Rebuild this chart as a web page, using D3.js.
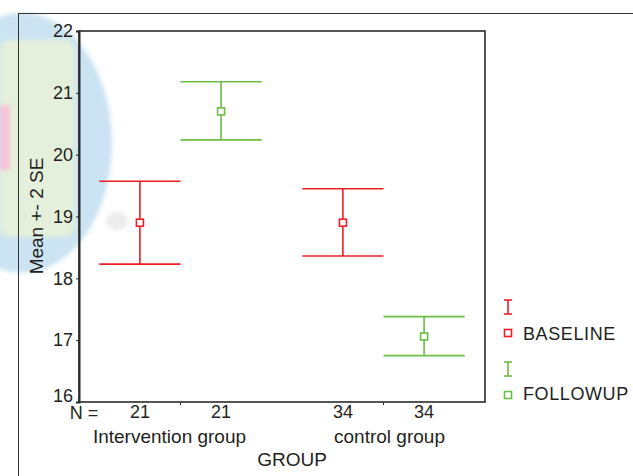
<!DOCTYPE html>
<html>
<head>
<meta charset="utf-8">
<script src="https://cdn.jsdelivr.net/npm/d3@7"></script>
<style>
  html, body { margin: 0; padding: 0; background: #fff; }
  svg { display: block; font-family: Arial, "Liberation Sans", sans-serif; }
</style>
</head>
<body>
<svg id="chart" width="633" height="476"></svg>
<script>
const groups = ['Intervention group', 'control group'];
const series = ['BASELINE', 'FOLLOWUP'];
const groupN = [[21, 21], [34, 34]];
const baselineMean = [18.90, 18.90];
const baselineLow = [18.23, 18.36];
const baselineHigh = [19.57, 19.45];
const followupMean = [20.70, 17.06];
const followupLow = [20.24, 16.75];
const followupHigh = [21.18, 17.38];
const yTicks = [16, 17, 18, 19, 20, 21, 22];

const colors = { BASELINE: '#ee1d25', FOLLOWUP: '#6cbd45' };

const svg = d3.select('#chart');
const margin = { top: 31, right: 148, bottom: 74, left: 79 };
const W = 633, H = 476;
const width = W - margin.left - margin.right;
const height = H - margin.top - margin.bottom;

// soft blurred blob on the left edge
const defs = svg.append('defs');
defs.append('filter').attr('id', 'soft')
  .append('feGaussianBlur').attr('stdDeviation', 2);
const blob = svg.append('g').attr('filter', 'url(#soft)');
blob.append('ellipse').attr('cx', 22).attr('cy', 143).attr('rx', 90).attr('ry', 130).attr('fill', '#cbe3f2');
blob.append('rect').attr('x', 0).attr('y', 40).attr('width', 75).attr('height', 197).attr('rx', 10).attr('fill', '#e4f0db');
blob.append('rect').attr('x', 0).attr('y', 105).attr('width', 10).attr('height', 65).attr('fill', '#f6c3d8');
blob.append('ellipse').attr('cx', 117).attr('cy', 221).attr('rx', 11).attr('ry', 9).attr('fill', '#ebebeb');

// outer frame lines
svg.append('line').attr('x1', 18).attr('x2', W).attr('y1', 13.5).attr('y2', 13.5)
  .attr('stroke', '#333').attr('stroke-width', 1);
svg.append('line').attr('x1', 18.5).attr('x2', 18.5).attr('y1', 13).attr('y2', H)
  .attr('stroke', '#333').attr('stroke-width', 1);

const g = svg.append('g').attr('transform', `translate(${margin.left},${margin.top})`);

const x = d3.scaleBand().domain(groups).range([0, width]).padding(0);
const xInner = d3.scalePoint().domain(series).range([x.bandwidth() * 0.3, x.bandwidth() * 0.7]);
const y = d3.scaleLinear().domain([16, 22]).range([height, 0]);

// plot box
g.append('rect').attr('x', 0).attr('y', 0).attr('width', width).attr('height', height)
  .attr('fill', 'none').attr('stroke', '#2b2b2b').attr('stroke-width', 1.6);

// y axis
const yAxis = g.append('g')
  .call(d3.axisLeft(y).tickValues(yTicks).tickSize(3).tickPadding(3).tickFormat(d3.format('d')));
yAxis.select('.domain').attr('stroke', '#2b2b2b').attr('stroke-width', 2);
yAxis.selectAll('.tick line').attr('stroke', '#2b2b2b');
yAxis.selectAll('.tick text').attr('font-size', 18).attr('fill', '#231f20')
  .attr('font-family', 'Arial, "Liberation Sans", sans-serif')
  .attr('dy', d => d === 16 ? '-0.05em' : '0.32em');

// x axis: small ticks at group centres
const xAxis = g.append('g').attr('transform', `translate(0,${height})`)
  .call(d3.axisBottom(x).tickSize(3).tickFormat(''));
xAxis.select('.domain').remove();
xAxis.selectAll('.tick line').attr('stroke', '#2b2b2b');

// N labels
const nRow = [];
groups.forEach((grp, gi) => series.forEach((s, si) => nRow.push({ grp, s, n: groupN[gi][si] })));
g.selectAll('.nlab').data(nRow).enter().append('text')
  .attr('class', 'nlab')
  .attr('x', d => x(d.grp) + xInner(d.s))
  .attr('y', height + 16)
  .attr('text-anchor', 'middle')
  .attr('font-size', 18).attr('fill', '#231f20')
  .text(d => d.n);
g.append('text').attr('x', 5).attr('y', height + 17)
  .attr('text-anchor', 'middle').attr('font-size', 18).attr('fill', '#231f20')
  .text('N =');

// group labels
g.selectAll('.glab').data(groups).enter().append('text')
  .attr('class', 'glab')
  .attr('x', (d, i) => x(d) + x.bandwidth() / 2 + (i === 0 ? -11 : 6))
  .attr('y', height + 41)
  .attr('text-anchor', 'middle')
  .attr('font-size', 19).attr('fill', '#231f20')
  .text(d => d);

g.append('text').attr('x', 213).attr('y', height + 64)
  .attr('text-anchor', 'middle').attr('font-size', 19).attr('fill', '#231f20')
  .text('GROUP');

g.append('text')
  .attr('transform', `translate(-36,185) rotate(-90)`)
  .attr('text-anchor', 'middle').attr('font-size', 19).attr('fill', '#231f20')
  .text('Mean +- 2 SE');

// error bars
const rows = [];
groups.forEach((grp, gi) => {
  rows.push({ grp, s: 'BASELINE', mean: baselineMean[gi], lo: baselineLow[gi], hi: baselineHigh[gi] });
  rows.push({ grp, s: 'FOLLOWUP', mean: followupMean[gi], lo: followupLow[gi], hi: followupHigh[gi] });
});
const capHalf = x.bandwidth() * 0.2;
const bars = g.selectAll('.bar').data(rows).enter().append('g').attr('class', 'bar')
  .attr('transform', d => `translate(${x(d.grp) + xInner(d.s)},0)`)
  .attr('stroke', d => colors[d.s]).attr('stroke-width', 1.6).attr('fill', 'none');
bars.append('line').attr('x1', 0).attr('x2', 0).attr('y1', d => y(d.hi)).attr('y2', d => y(d.lo));
bars.append('line').attr('x1', -capHalf).attr('x2', capHalf).attr('y1', d => y(d.hi)).attr('y2', d => y(d.hi));
bars.append('line').attr('x1', -capHalf).attr('x2', capHalf).attr('y1', d => y(d.lo)).attr('y2', d => y(d.lo));
bars.append('rect').attr('x', -3.5).attr('y', d => y(d.mean) - 3.5)
  .attr('width', 7).attr('height', 7).attr('fill', '#fff');

// legend
const legend = svg.append('g').attr('transform', 'translate(508,300)');
const item = legend.selectAll('.item').data(series).enter().append('g')
  .attr('transform', (d, i) => `translate(0,${i * 62})`)
  .attr('stroke', d => colors[d]).attr('stroke-width', 1.6).attr('fill', 'none');
item.append('line').attr('x1', 0).attr('x2', 0).attr('y1', 0).attr('y2', 14);
item.append('line').attr('x1', -4).attr('x2', 4).attr('y1', 0).attr('y2', 0);
item.append('line').attr('x1', -4).attr('x2', 4).attr('y1', 14).attr('y2', 14);
item.append('rect').attr('x', -3.5).attr('y', 29.5).attr('width', 7).attr('height', 7).attr('fill', '#fff');
legend.selectAll('.ltext').data(series).enter().append('text')
  .attr('x', 15).attr('y', (d, i) => 40 + i * 60)
  .attr('font-size', 18).attr('fill', '#231f20').attr('letter-spacing', 0.6)
  .text(d => d);
</script>
</body>
</html>
